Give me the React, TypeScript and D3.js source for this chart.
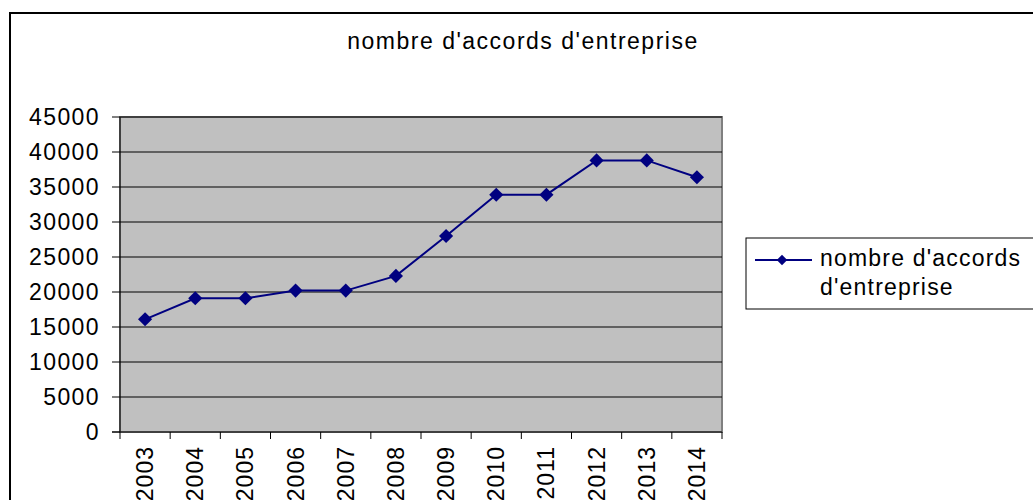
import React from "react";
import { scaleBand, scaleLinear, line as d3line, symbol, symbolSquare } from "d3";

const years = ["2003", "2004", "2005", "2006", "2007", "2008", "2009", "2010", "2011", "2012", "2013", "2014"];
const accords = [16100, 19100, 19100, 20200, 20200, 22300, 28000, 33900, 33900, 38800, 38800, 36400];
const yTicks = [0, 5000, 10000, 15000, 20000, 25000, 30000, 35000, 40000, 45000];

const title = "nombre d'accords d'entreprise";
const font = "'Liberation Sans', Arial, sans-serif";

export default function App() {
  const plot = { left: 120, right: 722, top: 117, bottom: 432 };

  const x = scaleBand<string>().domain(years).range([plot.left, plot.right]);
  const y = scaleLinear().domain([0, 45000]).range([plot.bottom, plot.top]);

  const cx = (d: string) => (x(d) ?? 0) + x.bandwidth() / 2;

  const path = d3line<number>()
    .x((_, i) => cx(years[i]))
    .y((v) => y(v))(accords);

  // diamonds = rotated squares
  const diamond = symbol().type(symbolSquare).size(100)();
  const legendDiamond = symbol().type(symbolSquare).size(55)();

  // tick boundaries between categories
  const xEdges = [...years.map((d) => x(d) ?? 0), plot.right];

  return (
    <svg
      width={1033}
      height={500}
      style={{ position: "absolute", left: 0, top: 0, background: "#fff" }}
      fontFamily={font}
    >
      {/* outer chart border */}
      <rect x={10} y={13} width={1040} height={520} fill="#fff" stroke="#000" strokeWidth={2} />

      <text x={523} y={49} textAnchor="middle" fontSize={23} letterSpacing={1.5} fill="#000">
        {title}
      </text>

      {/* plot area */}
      <rect
        x={plot.left}
        y={plot.top}
        width={plot.right - plot.left}
        height={plot.bottom - plot.top}
        fill="#c0c0c0"
        stroke="#808080"
        strokeWidth={2}
      />

      {/* grid lines */}
      {yTicks.slice(1).map((t) => (
        <line key={t} x1={plot.left} x2={plot.right} y1={y(t)} y2={y(t)} stroke="#000" strokeWidth={1} />
      ))}

      {/* y axis */}
      <line x1={plot.left} x2={plot.left} y1={plot.top} y2={plot.bottom} stroke="#000" strokeWidth={1} />
      {yTicks.map((t) => (
        <g key={t}>
          <line x1={plot.left - 8} x2={plot.left} y1={y(t)} y2={y(t)} stroke="#000" />
          <text x={100} y={y(t)} dy="0.35em" textAnchor="end" fontSize={23} letterSpacing={1.4} fill="#000">
            {t}
          </text>
        </g>
      ))}

      {/* x axis */}
      <line x1={plot.left - 8} x2={plot.right} y1={plot.bottom} y2={plot.bottom} stroke="#000" />
      {xEdges.map((e, i) => (
        <line key={i} x1={e} x2={e} y1={plot.bottom} y2={plot.bottom + 7} stroke="#000" />
      ))}
      {years.map((d) => (
        <text
          key={d}
          transform={`translate(${cx(d)},${plot.bottom + 14}) rotate(-90)`}
          dy="0.35em"
          textAnchor="end"
          fontSize={23}
          letterSpacing={1}
          fill="#000"
        >
          {d}
        </text>
      ))}

      {/* series */}
      <path d={path ?? undefined} fill="none" stroke="#000080" strokeWidth={2} />
      {accords.map((v, i) => (
        <path
          key={years[i]}
          d={diamond ?? undefined}
          transform={`translate(${cx(years[i])},${y(v)}) rotate(45)`}
          fill="#000080"
        />
      ))}

      {/* legend */}
      <rect x={746} y={238} width={300} height={71} fill="#fff" stroke="#000" strokeWidth={1} />
      <line x1={755} x2={812} y1={260} y2={260} stroke="#000080" strokeWidth={2} />
      <path d={legendDiamond ?? undefined} transform="translate(782,260) rotate(45)" fill="#000080" />
      <text x={820} y={266} fontSize={23} letterSpacing={1.2} fill="#000">
        nombre d'accords
      </text>
      <text x={820} y={295} fontSize={23} letterSpacing={1.2} fill="#000">
        d'entreprise
      </text>
    </svg>
  );
}
